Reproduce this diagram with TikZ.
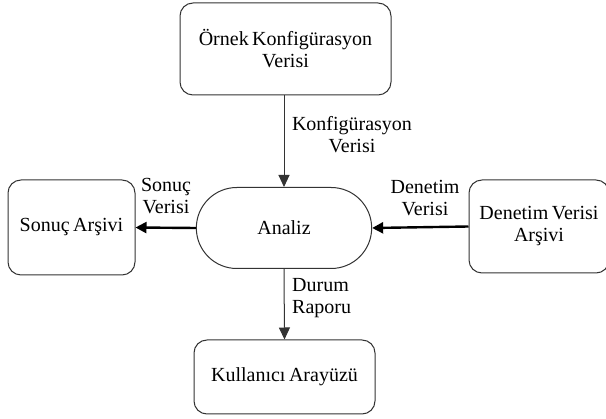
\documentclass[tikz,border=0pt]{standalone}
\usepackage{fontspec}
\setmainfont{Liberation Serif}[WordSpace=0.7]
\usetikzlibrary{arrows.meta,shapes.misc}
\begin{document}
\begin{tikzpicture}[x=1pt,y=-1pt,
  box/.style={draw=black!80,line width=1pt,rounded corners=13pt,align=center,inner sep=0pt,font=\fontsize{20}{22}\selectfont},
  lbl/.style={align=center,inner sep=0pt,font=\fontsize{20}{22}\selectfont},
  thinarr/.style={draw=black!80,line width=1pt,-{Triangle[length=12pt,width=11pt]}},
  thickarr/.style={draw=black,line width=2.4pt,-{Triangle[length=11pt,width=11pt]}}]
\useasboundingbox (0,0) rectangle (606,419);
\node[box,minimum width=211pt,minimum height=92pt] (ornek) at (285.5,49) {Örnek Konfigürasyon\\Verisi};
\node[draw=black!80,line width=1pt,rounded rectangle,minimum width=182pt,minimum height=81pt,font=\fontsize{20}{22}\selectfont] (analiz) at (284,228) {Analiz};
\node[box,minimum width=127pt,minimum height=95pt] (sonuc) at (71.5,227.5) {Sonuç Arşivi};
\node[box,minimum width=140pt,minimum height=93pt] (denetim) at (539,226.5) {Denetim Verisi\\Arşivi};
\node[box,minimum width=181pt,minimum height=74pt] (kull) at (284.5,377) {Kullanıcı Arayüzü};
\draw[thinarr] (ornek.south -| analiz.north) -- (analiz.north);
\draw[thickarr] (analiz.west) -- (sonuc.east);
\draw[thickarr] (denetim.west) -- (analiz.east);
\draw[thinarr] (analiz.south) -- (kull.north);
\node[lbl] (l1) at (352,135) {Konfigürasyon\\Verisi};
\node[lbl] (l2) at (166,196) {Sonuç\\Verisi};
\node[lbl] (l3) at (425,198) {Denetim\\Verisi};
\node[lbl,align=left,anchor=west] (l4) at (292,298) {Durum\\Raporu};
\end{tikzpicture}
\end{document}
